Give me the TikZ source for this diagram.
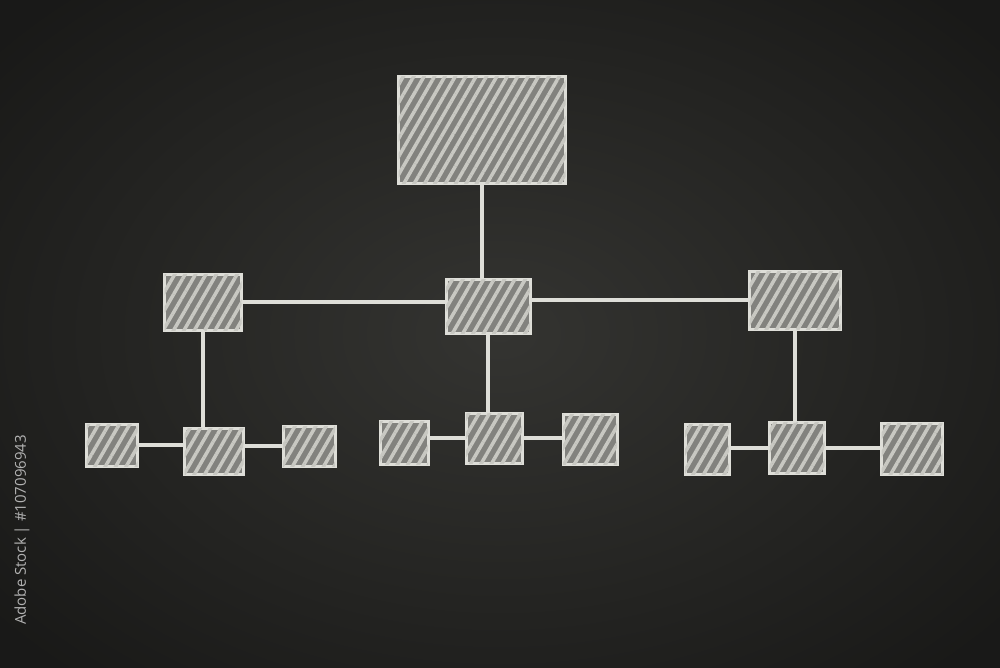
\documentclass[tikz,border=0pt]{standalone}
\usepackage{fontspec}
\setsansfont{Open Sans}
\usetikzlibrary{patterns.meta}
\definecolor{board}{RGB}{36,36,34}
\definecolor{boardlight}{RGB}{52,52,49}
\definecolor{chalk}{RGB}{222,222,216}
\definecolor{chalkfill}{RGB}{130,130,126}
\tikzset{
  chalkbox/.style={draw=chalk, line width=3pt, fill=chalkfill, inner sep=0pt,
    postaction={pattern={Lines[angle=60,distance=9pt,line width=3.5pt]}, pattern color=chalk!90!black}},
  chalkline/.style={draw=chalk, line width=3.5pt, line cap=round}
}
\begin{document}
\begin{tikzpicture}[x=1pt,y=-1pt]
\useasboundingbox (0,0) rectangle (1000,667);
\fill[inner color=boardlight, outer color=board!70!black] (-150,-120) rectangle (1150,787);
% top box
\node[chalkbox, minimum width=167pt, minimum height=107pt] (top) at (482,130) {};
% middle row
\node[chalkbox, minimum width=77pt, minimum height=56pt] (midL) at (203,302) {};
\node[chalkbox, minimum width=84pt, minimum height=54pt] (midC) at (488,306) {};
\node[chalkbox, minimum width=91pt, minimum height=58pt] (midR) at (795,300) {};
% bottom row
\node[chalkbox, minimum width=51pt, minimum height=42pt] (b1) at (112,445) {};
\node[chalkbox, minimum width=59pt, minimum height=46pt] (b2) at (214,451) {};
\node[chalkbox, minimum width=52pt, minimum height=40pt] (b3) at (309,446) {};
\node[chalkbox, minimum width=48pt, minimum height=43pt] (b4) at (404,443) {};
\node[chalkbox, minimum width=56pt, minimum height=50pt] (b5) at (494,438) {};
\node[chalkbox, minimum width=54pt, minimum height=50pt] (b6) at (590,439) {};
\node[chalkbox, minimum width=44pt, minimum height=50pt] (b7) at (707,449) {};
\node[chalkbox, minimum width=55pt, minimum height=51pt] (b8) at (797,448) {};
\node[chalkbox, minimum width=61pt, minimum height=51pt] (b9) at (912,449) {};
% connectors
\draw[chalkline] (top.south) -- (top.south |- midC.north);
\draw[chalkline] (midL.east) -- (midL.east -| midC.west);
\draw[chalkline] (midR.west) -- (midR.west -| midC.east);
\draw[chalkline] (midL.south) -- (midL.south |- b2.north);
\draw[chalkline] (midC.south) -- (midC.south |- b5.north);
\draw[chalkline] (midR.south) -- (midR.south |- b8.north);
\draw[chalkline] (b1.east) -- (b1.east -| b2.west);
\draw[chalkline] (b3.west) -- (b3.west -| b2.east);
\draw[chalkline] (b5.west) -- (b5.west -| b4.east);
\draw[chalkline] (b5.east) -- (b5.east -| b6.west);
\draw[chalkline] (b8.west) -- (b8.west -| b7.east);
\draw[chalkline] (b8.east) -- (b8.east -| b9.west);
% side id
\node[rotate=90, text=white!70!black, font=\sffamily\fontsize{15}{17}\selectfont] (stockid) at (22,530) {Adobe Stock | \#107096943};
\end{tikzpicture}
\end{document}
